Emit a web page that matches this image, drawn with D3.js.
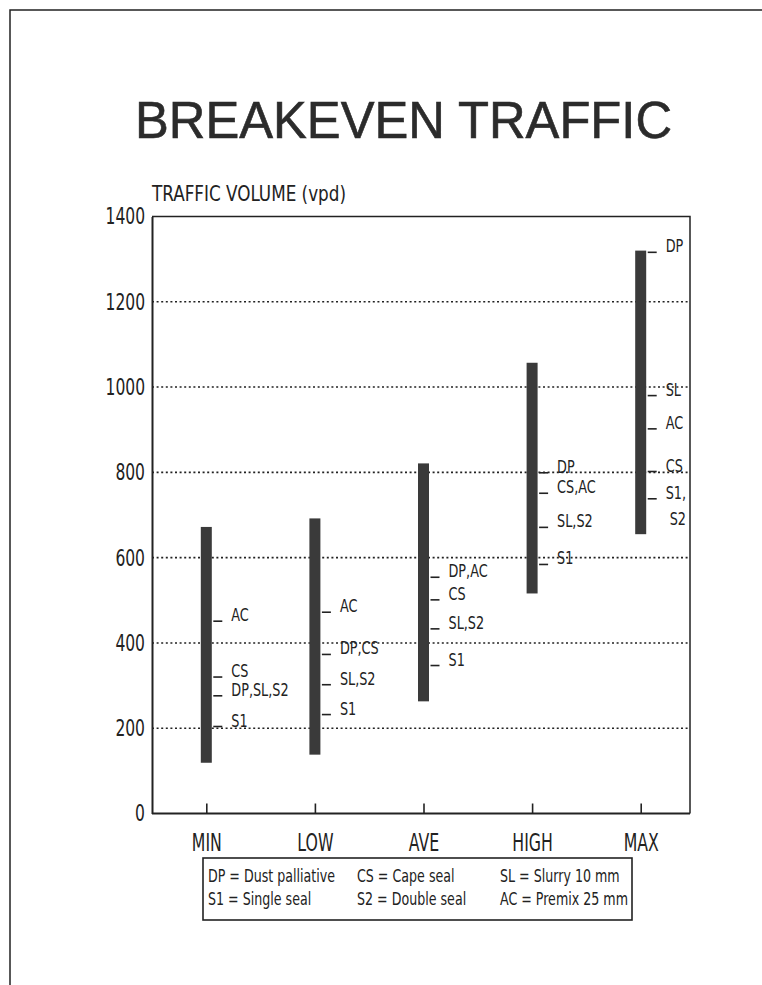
<!DOCTYPE html>
<html>
<head>
<meta charset="utf-8">
<script src="https://cdn.jsdelivr.net/npm/d3@7"></script>
<style>
  html, body { margin: 0; padding: 0; background: #fff; }
  svg { display: block; }
</style>
</head>
<body>
<script>
// ---- data ----
const categories = ["MIN", "LOW", "AVE", "HIGH", "MAX"];
const rangeMin = [119, 138, 263, 516, 655];
const rangeMax = [672, 692, 821, 1057, 1320];
const markerLabels = [
  ["AC", "CS", "DP,SL,S2", "S1"],
  ["AC", "DP,CS", "SL,S2", "S1"],
  ["DP,AC", "CS", "SL,S2", "S1"],
  ["DP", "CS,AC", "SL,S2", "S1"],
  ["DP", "SL", "AC", "CS", "S1,|S2"]
];
const markerValues = [
  [451, 320, 276, 204],
  [472, 373, 302, 232],
  [554, 501, 433, 347],
  [799, 751, 671, 584],
  [1316, 980, 902, 802, 738]
];
const yTicks = [0, 200, 400, 600, 800, 1000, 1200, 1400];
const gridValues = [200, 400, 600, 800, 1000, 1200];
const legendRow1 = ["DP = Dust palliative", "CS = Cape seal", "SL = Slurry 10 mm"];
const legendRow2 = ["S1 = Single seal", "S2 = Double seal", "AC = Premix 25 mm"];
const titleText = "BREAKEVEN TRAFFIC";
const yAxisTitle = "TRAFFIC VOLUME (vpd)";

// ---- setup ----
const W = 762, H = 985;
const ink = "#222";
const condFont = "'Liberation Sans Narrow', 'DejaVu Sans Condensed', 'Arial Narrow', sans-serif";

const svg = d3.select("body").append("svg").attr("width", W).attr("height", H);
svg.append("rect").attr("width", W).attr("height", H).attr("fill", "#fff");

function condense(sel, f) {
  sel.each(function () {
    const n = this.getComputedTextLength();
    if (n > 0) d3.select(this).attr("textLength", n * f).attr("lengthAdjust", "spacingAndGlyphs");
  });
}

// page border (scan edge)
svg.append("path").attr("d", "M10,985 V10 H762").attr("fill", "none")
  .attr("stroke", ink).attr("stroke-width", 1.5);

// title
svg.append("text").attr("x", 403.5).attr("y", 138).attr("text-anchor", "middle")
  .attr("font-family", "'Liberation Sans', Arial, sans-serif").attr("font-size", 51)
  .attr("fill", "#2b2b2b").attr("stroke", "#2b2b2b").attr("stroke-width", 0.6)
  .attr("textLength", 537).attr("lengthAdjust", "spacingAndGlyphs")
  .text(titleText);

const plotL = 152, plotR = 690;
const x = d3.scalePoint().domain(categories).range([plotL, 695]).padding(0.5);
const y = d3.scaleLinear().domain([0, 1400]).range([813.5, 216.5]);

// axis title
svg.append("text").attr("x", plotL).attr("y", 201)
  .attr("font-family", condFont).attr("font-size", 21).attr("fill", ink)
  .attr("textLength", 194).attr("lengthAdjust", "spacingAndGlyphs")
  .text(yAxisTitle);

// gridlines
svg.append("g").selectAll("line").data(gridValues).join("line")
  .attr("x1", plotL).attr("x2", plotR)
  .attr("y1", d => y(d)).attr("y2", d => y(d))
  .attr("stroke", ink).attr("stroke-width", 1.6).attr("stroke-dasharray", "2,2.6");

// frame
svg.append("path")
  .attr("d", `M${plotL},${y(1400)} H${plotR} V${y(0)}`)
  .attr("fill", "none").attr("stroke", ink).attr("stroke-width", 1.5);

// y axis
const gy = svg.append("g").attr("transform", `translate(${plotL},0)`)
  .call(d3.axisLeft(y).tickValues(yTicks).tickSize(0).tickPadding(7).tickFormat(d3.format("d")));
gy.select(".domain").attr("stroke", ink).attr("stroke-width", 2);
gy.selectAll("text").attr("font-family", condFont).attr("font-size", 23).attr("fill", ink);
condense(gy.selectAll("text"), 0.75);

// x axis
const gx = svg.append("g").attr("transform", `translate(0,${y(0)})`)
  .call(d3.axisBottom(x).tickSize(-10).tickPadding(19.5).tickSizeOuter(0));
gx.select(".domain").attr("d", `M${plotL},0 H${plotR}`).attr("stroke", ink).attr("stroke-width", 2);
gx.selectAll(".tick line").attr("stroke", ink).attr("stroke-width", 1.6);
gx.selectAll("text").attr("font-family", condFont).attr("font-size", 25).attr("fill", ink);
condense(gx.selectAll("text"), 0.7);

// bars
const barW = 11;
svg.append("g").selectAll("rect").data(categories).join("rect")
  .attr("x", d => x(d) - barW / 2)
  .attr("width", barW)
  .attr("y", (d, i) => y(rangeMax[i]))
  .attr("height", (d, i) => y(rangeMin[i]) - y(rangeMax[i]))
  .attr("fill", "#3a3a3a");

// markers
const markers = [];
categories.forEach((c, i) => {
  markerLabels[i].forEach((lab, j) => markers.push({ c, lab, v: markerValues[i][j] }));
});
const markerLines = [];
markers.forEach(m => m.lab.split("|").forEach((p, k) => markerLines.push({ c: m.c, v: m.v, p, k })));
const mg = svg.append("g");
mg.selectAll("line").data(markers).join("line")
  .attr("x1", d => x(d.c) + 7).attr("x2", d => x(d.c) + 16)
  .attr("y1", d => y(d.v)).attr("y2", d => y(d.v))
  .attr("stroke", ink).attr("stroke-width", 1.6);
mg.selectAll("text").data(markerLines).join("text")
  .attr("transform", d => `translate(${x(d.c) + 25 + d.k * 4},${y(d.v) + d.k * 26}) scale(0.77,1)`)
  .attr("font-family", condFont).attr("font-size", 18.5).attr("fill", ink)
  .text(d => d.p);

// legend
const lg = svg.append("g");
lg.append("rect").attr("x", 203).attr("y", 858).attr("width", 429).attr("height", 62)
  .attr("fill", "#fff").attr("stroke", ink).attr("stroke-width", 1.6);
const colX = [208, 357, 500];
[legendRow1, legendRow2].forEach((row, r) => {
  lg.selectAll(null).data(row).join("text")
    .attr("transform", (d, i) => `translate(${colX[i]},${882 + r * 23}) scale(0.76,1)`)
    .attr("font-family", condFont).attr("font-size", 18.5).attr("fill", ink)
    .text(d => d);
});
</script>
</body>
</html>
